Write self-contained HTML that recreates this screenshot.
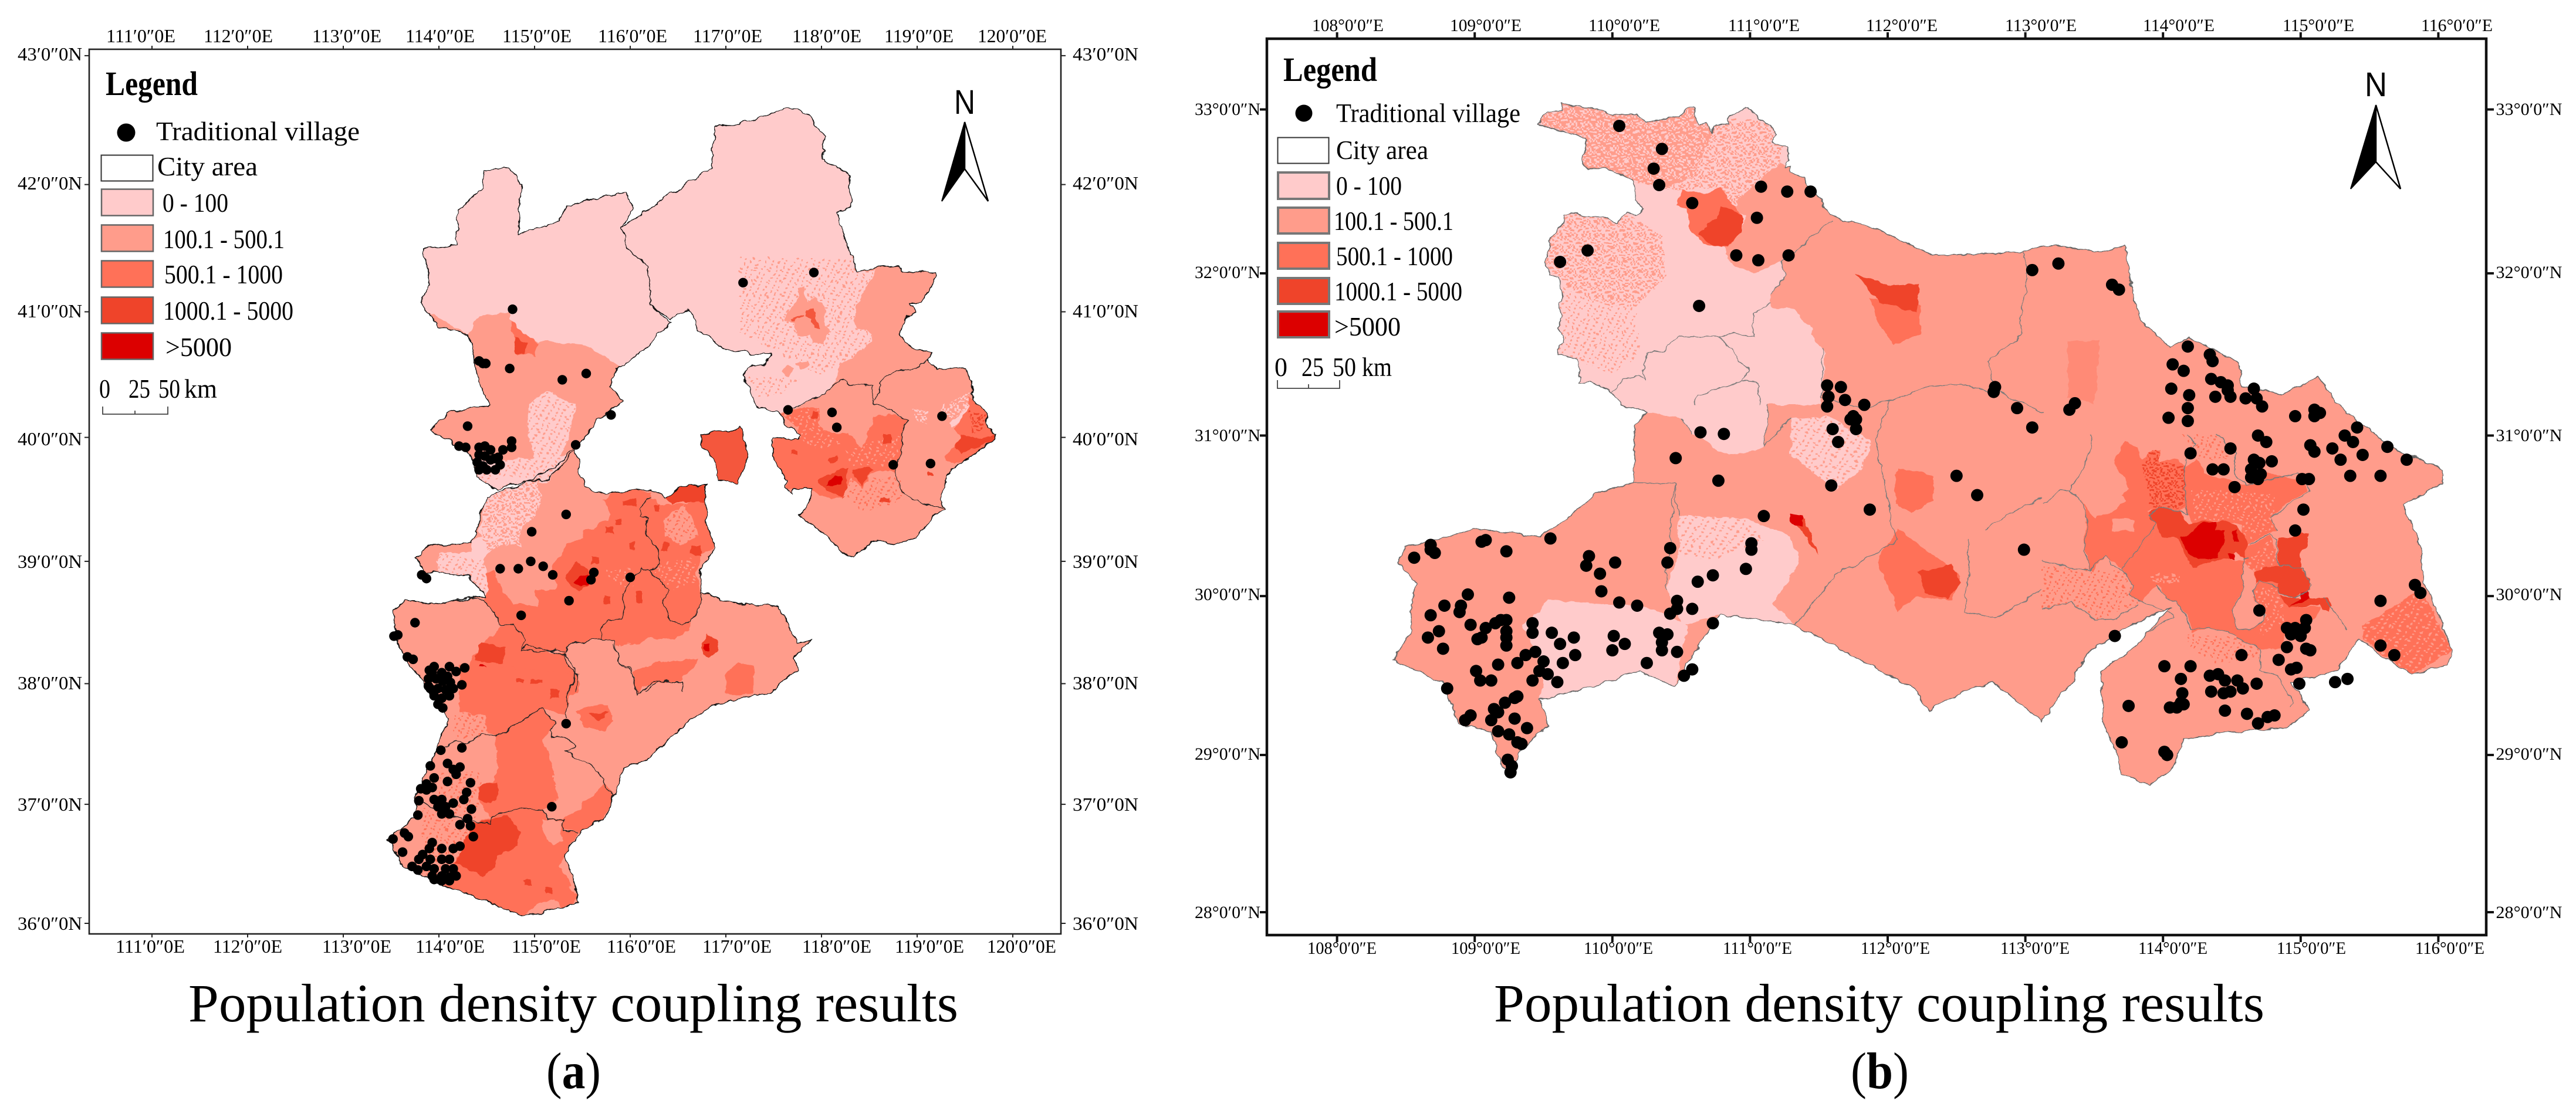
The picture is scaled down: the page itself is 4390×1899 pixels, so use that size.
<!DOCTYPE html>
<html lang="en">
<head>
<meta charset="utf-8">
<title>Population density coupling results</title>
<style>
html,body{margin:0;padding:0;background:#fff;}
svg{display:block;}
text{font-family:"Liberation Serif",serif;fill:#000;}
.ta{font-size:32px;text-anchor:middle;}
.tb{font-size:30px;text-anchor:middle;}
.lg{font-size:46px;}
.lh{font-size:58px;font-weight:bold;}
.ttl{font-size:92px;}
.cap{font-size:88px;}
.n{font-family:"Liberation Sans",sans-serif;font-size:58px;text-anchor:middle;}
.bd{fill:none;stroke:#222;stroke-width:1.4;vector-effect:non-scaling-stroke;stroke-linejoin:round;}
.bg{fill:none;stroke:#7a7a7a;stroke-width:1.4;vector-effect:non-scaling-stroke;stroke-linejoin:round;}
.ol{fill:none;stroke:#111;stroke-width:1.5;vector-effect:non-scaling-stroke;stroke-linejoin:round;}
.pk{fill:#ffcbcb;}.sa{fill:#ff9c8b;}.co{fill:#ff7158;}.ro{fill:#ef442a;}.rd{fill:#dc0000;}
</style>
</head>
<body>
<svg id="root" xmlns="http://www.w3.org/2000/svg" width="4390" height="1899" viewBox="0 0 4390 1899">
<defs>
<pattern id="sparseSalmon" width="72" height="63" patternUnits="userSpaceOnUse"><path fill="#ff9c8b" d="M0 0h9v9h-9zM27 9h9v9h-9zM54 18h9v9h-9zM18 27h9v9h-9zM45 36h9v9h-9zM9 45h9v9h-9zM36 54h9v9h-9zM63 54h9v9h-9z"/></pattern>
<pattern id="denseSalmon" width="72" height="63" patternUnits="userSpaceOnUse"><path fill="#ff9c8b" d="M0 0h9v9h-9zM27 9h9v9h-9zM54 18h9v9h-9zM18 27h9v9h-9zM45 36h9v9h-9zM9 45h9v9h-9zM36 54h9v9h-9zM63 54h9v9h-9zM9 0h9v9h-9zM36 0h9v9h-9zM63 9h9v9h-9zM0 18h9v9h-9zM36 18h9v9h-9zM54 36h9v9h-9zM27 45h9v9h-9zM0 54h9v9h-9zM18 54h9v9h-9zM45 9h9v9h-9zM9 27h9v9h-9zM63 36h9v9h-9z"/></pattern>
<pattern id="densePink" width="72" height="63" patternUnits="userSpaceOnUse"><path fill="#ffcbcb" d="M0 0h9v9h-9zM27 9h9v9h-9zM54 18h9v9h-9zM18 27h9v9h-9zM45 36h9v9h-9zM9 45h9v9h-9zM36 54h9v9h-9zM63 54h9v9h-9zM9 0h9v9h-9zM36 0h9v9h-9zM63 9h9v9h-9zM0 18h9v9h-9zM36 18h9v9h-9zM54 36h9v9h-9zM27 45h9v9h-9zM0 54h9v9h-9zM18 54h9v9h-9zM45 9h9v9h-9zM9 27h9v9h-9zM63 36h9v9h-9z"/></pattern>
<pattern id="sparseCoral" width="72" height="63" patternUnits="userSpaceOnUse"><path fill="#ff7158" d="M0 0h9v9h-9zM27 9h9v9h-9zM54 18h9v9h-9zM18 27h9v9h-9zM45 36h9v9h-9zM9 45h9v9h-9zM36 54h9v9h-9zM63 54h9v9h-9z"/></pattern>
<pattern id="denseRed" width="72" height="63" patternUnits="userSpaceOnUse"><path fill="#ef442a" d="M0 0h9v9h-9zM27 9h9v9h-9zM54 18h9v9h-9zM18 27h9v9h-9zM45 36h9v9h-9zM9 45h9v9h-9zM36 54h9v9h-9zM63 54h9v9h-9zM9 0h9v9h-9zM36 0h9v9h-9zM63 9h9v9h-9zM0 18h9v9h-9zM36 18h9v9h-9zM54 36h9v9h-9zM27 45h9v9h-9zM0 54h9v9h-9zM18 54h9v9h-9zM45 9h9v9h-9zM9 27h9v9h-9zM63 36h9v9h-9z"/></pattern>
<pattern id="zSalmon" href="#sparseSalmon" patternTransform="scale(.27 .275)"></pattern>
<filter id="roughA" filterUnits="userSpaceOnUse" primitiveUnits="userSpaceOnUse" x="400" y="100" width="1000" height="1250" color-interpolation-filters="sRGB">
<feTurbulence type="fractalNoise" baseFrequency="0.07" numOctaves="3" seed="4" result="n"/>
<feDisplacementMap in="SourceGraphic" in2="n" scale="9" xChannelSelector="R" yChannelSelector="G"/>
</filter>
<filter id="roughB" filterUnits="userSpaceOnUse" primitiveUnits="userSpaceOnUse" x="200" y="100" width="1300" height="1050" color-interpolation-filters="sRGB">
<feTurbulence type="fractalNoise" baseFrequency="0.07" numOctaves="3" seed="9" result="n"/>
<feDisplacementMap in="SourceGraphic" in2="n" scale="8" xChannelSelector="R" yChannelSelector="G"/>
</filter>
<clipPath id="clipA"><path d="M565 350L610 345L612 295L645 265L648 240L680 235L697 260L692 330L750 310L755 290L838 270L845 295L830 320L838 350L865 375L870 430L895 455L880 470L865 490L835 510L825 520L815 545L833 565L800 590L775 625L755 650L730 675L690 680L665 690L635 672L628 640L575 605L600 580L655 570L640 540L630 480L625 470L585 460L562 425L575 395Z
M830 320L950 235L955 180L1020 165L1052 150L1080 160L1100 190L1100 225L1135 245L1137 290L1120 300L1135 360L1140 363L1145 383L1171 376L1202 373L1207 383L1252 384L1253 389L1243 405L1232 425L1215 427L1223 440L1210 446L1202 471L1218 490L1245 495L1241 508L1252 520L1292 519L1299 537L1298 553L1304 568L1319 583L1319 600L1330 611L1328 619L1291 647L1268 663L1257 702L1261 718L1247 728L1223 757L1200 766L1171 760L1140 784L1126 779L1100 750L1077 732L1069 727L1079 713L1086 689L1062 688L1060 696L1047 685L1052 674L1038 658L1032 627L1035 616L1066 619L1068 612L1062 605L1049 597L1042 581L1014 575L993 528L1006 513L1022 515L1031 498L1006 499L988 493L965 490L935 465L920 435L895 450L870 430L865 375L838 350Z
M937 612L990 602L1000 640L985 680L960 675L955 645L937 630Z
M768 630L780 685L810 695L870 688L890 700L910 685L942 683L945 740L955 770L935 800L938 835L985 850L1040 855L1065 905L1085 900L1060 925L1065 945L1045 960L1030 975L960 990L925 1010L885 1050L865 1070L835 1080L822 1115L810 1150L775 1170L755 1205L770 1250L773 1270L750 1278L700 1290L665 1275L620 1255L590 1245L540 1222L525 1195L517 1180L555 1150L555 1120L570 1085L585 1050L600 1010L575 975L545 930L530 900L525 860L540 845L590 850L640 840L650 840L625 810L565 805L555 785L570 770L630 765L650 700L700 680L740 660Z"/></clipPath>
<clipPath id="clipB"><path d="M407 175L418 157L433 156L435 146L446 151L470 152L492 162L518 161L528 172L551 168L566 164L575 151L582 151L586 175L594 173L601 186L606 176L619 173L620 164L632 160L641 151L645 153L654 168L665 173L676 191L669 200L684 206L688 217L684 235L690 233L691 242L704 249L706 259L724 281L735 303L790 325L850 360L945 355L985 345L1035 355L1065 345L1068 385L1080 450L1115 490L1135 475L1160 490L1190 510L1195 545L1240 555L1280 530L1300 565L1320 590L1370 635L1420 660L1420 680L1375 710L1395 770L1395 810L1430 915L1425 935L1385 950L1360 930L1325 900L1300 945L1250 960L1270 1000L1245 1025L1180 1030L1130 1040L1115 1085L1090 1105L1060 1090L1055 1060L1040 1020L1037 945L1075 910L1115 855L1070 880L1020 920L1005 960L970 1015L940 985L915 960L880 975L845 1000L830 970L770 930L695 880L610 865L560 965L520 945L470 965L410 985L420 1020L385 1060L380 1090L365 1075L355 1030L320 1020L300 960L245 930L265 890L270 820L250 790L260 770L340 745L410 755L440 730L470 695L515 680L515 600L530 580L500 570L485 548L464 537L452 539L455 526L452 506L430 500L431 487L437 482L430 461L436 449L431 429L435 418L432 391L422 387L415 370L422 336L436 314L435 303L449 300L468 306L488 307L495 314L507 299L518 303L525 294L517 281L514 253L485 237L464 237L457 230L461 194L429 184Z"/></clipPath>
</defs>

<!-- PANEL A -->
<g>
<rect x="152" y="84" width="1656" height="1508" fill="#fff" stroke="#222" stroke-width="2.6"/>
<g transform="scale(1.2755 1.211)" filter="url(#roughA)">
<g clip-path="url(#clipA)">
<rect class="sa" x="400" y="100" width="1000" height="1250"/>
<path class="pk" d="M550 340L620 225L700 220L850 260L880 300L905 470L835 520L780 485L720 480L690 470L680 440L640 445L625 470L555 430Z
M825 320L950 145L1100 145L1145 250L1145 383L1060 383L1000 400L1000 570L930 480L900 455L870 430Z
M705 570L730 550L770 570L760 620L735 660L715 650L705 600Z
M636 650L760 640L730 678L690 682L665 692L636 672Z"/>
<path fill="url(#zSalmon)" d="M636 650L760 640L730 678L690 682L665 692L636 672Z M705 570L730 550L770 570L760 620L735 660L715 650L705 600Z"/>
<path class="co" d="M683 450L700 470L720 482L715 500L690 498Z"/>
<path class="ro" d="M688 475L705 482L702 498L688 496Z"/>
<path fill="#f4573d" d="M930 600L1005 600L1005 690L930 690Z"/>

<!-- Baoding / Langfang crop space -->
<g transform="scale(.784 .82576)"><g transform="translate(760 780) scale(.33333)">
<path class="pk" d="M235 100L370 100L470 105L490 235L440 320L380 360L385 460L300 440L220 490L190 520L215 660L210 700L100 715L-40 745L-40 490L130 480L135 430L185 400L160 370L185 320L190 270Z"/>
<path fill="url(#denseSalmon)" d="M190 170L470 105L490 235L440 320L385 460L220 490L185 400L190 270Z"/>
<path fill="url(#sparseSalmon)" d="M-40 490L190 520L215 700L-40 745Z"/>
<path class="co" d="M810 215L890 160L1050 175L1050 210L1100 245L1330 230L1360 320L1360 420L1380 450L1300 500L1280 600L1305 690L1310 750L1250 840L1240 880L1170 930L1040 920L990 950L870 965L855 940L800 925L630 950L610 1000L570 980L480 995L385 985L410 930L350 850L280 855L240 790L200 730L215 660L205 600L250 580L300 700L350 750L470 760L460 680L560 680L570 640L520 590L600 480L620 440L700 420L710 380L830 320L840 290Z"/>
<path fill="url(#sparseSalmon)" d="M820 580L960 560L960 660L860 650Z M1050 570L1170 520L1270 520L1280 640L1150 680Z M860 960L1150 930L1170 1000L1050 1060L950 1080L880 1040Z"/>
<path class="sa" d="M1120 310L1220 240L1270 330L1290 400L1200 445L1120 400Z"/>
<path fill="url(#sparseCoral)" d="M1120 310L1220 240L1270 330L1290 400L1200 445L1120 400Z"/>
<path class="sa" d="M665 1050L760 980L830 935L855 960L880 1040L950 1080L960 1150L985 1210L680 1210L680 1100Z"/>
<path class="co" d="M960 1090L1060 1050L1290 1030L1240 1110L1200 1140L1010 1160L985 1210L960 1160Z M1430 1100L1500 1040L1570 1060L1570 1210L1430 1210Z"/>
<path class="co" d="M280 860L350 850L410 930L385 985L610 1000L615 1060L680 1110L680 1210L150 1210L110 1060L160 990Z"/>
<path class="ro" d="M1130 200L1220 140L1320 150L1330 230L1270 235L1190 230L1150 240Z M610 600L660 530L735 580L750 620L720 660L680 690L640 650L610 620Z
M910 215L965 215L965 245L910 245Z M860 315L895 315L895 345L860 345Z M820 355L850 355L850 390L820 390Z M935 440L965 440L965 470L935 470Z M740 510L785 510L785 540L740 540Z M965 690L1005 690L1005 740L965 740Z M800 710L840 710L840 745L800 745Z M1105 430L1135 430L1135 480L1105 480Z M1250 450L1310 450L1310 500L1250 500Z M1310 960L1340 905L1390 935L1395 985L1340 1015L1310 1000Z M150 1020L180 940L300 970L290 1060L150 1040Z M1065 240L1090 240L1090 275L1065 275Z"/>
<path class="rd" d="M660 640L690 595L730 600L725 650L690 665Z M1320 960L1350 955L1350 985L1320 985Z M140 1100L170 1055L295 1100L280 1150L200 1170L140 1130Z"/>
</g></g>

<!-- Shijiazhuang south / Xingtai / Handan crop space -->
<g transform="scale(.784 .82576)"><g transform="translate(640 1100) scale(.33333)">
<path fill="url(#sparseCoral)" d="M240 830L430 900L500 910L410 1100L340 1250L240 1190Z M340 640L540 650L540 800L500 890L300 850Z M400 340L560 360L610 470L400 480Z"/>
<path class="co" d="M430 100L1030 140L980 300L975 360L850 320L700 420L610 470L570 440L560 360L430 340Z"/>
<path class="co" d="M610 470L700 420L850 320L930 400L890 440L850 490L900 580L920 700L930 780L900 830L850 840L740 830L680 850L590 880L530 800L540 720L600 700L630 620L610 520Z
M1060 800L1180 710L1220 770L1180 860L1130 930L1040 960L960 940L950 890L1000 860L1060 830Z"/>
<path fill="url(#sparseSalmon)" d="M900 640L1060 660L1150 700L1060 800L1060 830L960 880L900 830L930 760Z"/>
<path class="co" d="M590 880L740 830L850 840L880 890L960 890L965 950L1030 960L940 1130L1000 1230L1040 1290L965 1365L920 1300L830 1320L760 1385L600 1345L450 1270L340 1250L410 1100L470 1000L500 910Z"/>
<path class="sa" d="M850 890L960 900L950 1000L910 1020L860 970Z"/>
<path class="co" d="M1080 310L1190 310L1215 380L1170 440L1070 420L1020 340Z M1330 150L1500 80L1500 180L1370 210L1320 180Z"/>
<path class="ro" d="M500 910L680 870L740 960L730 1020L620 1080L610 1130L550 1190L470 1140L410 1110L460 1000Z M1095 350L1190 335L1140 390Z M530 720L620 700L625 790L570 810L530 790Z M890 225L940 225L940 270L890 270Z M720 175L760 175L760 195L720 195Z M800 175L850 175L850 195L800 195Z M870 1240L900 1240L900 1270L870 1270Z M760 1200L800 1200L800 1230L760 1230Z"/>
</g></g>

<!-- Chengde / Tangshan / Qinhuangdao crop space -->
<g transform="scale(.784 .82576)"><g transform="translate(1260 440) scale(.33333)">
<path class="pk" d="M0 0L580 0L600 70L700 60L650 150L600 240L590 360L680 380L680 430L600 490L520 540L500 620L440 690L280 770L200 795L100 790L0 620L0 470Z"/>
<path fill="url(#sparseSalmon)" d="M0 0L580 0L600 70L700 60L650 150L600 240L590 360L680 380L680 430L600 490L520 540L420 600L240 500L0 380Z"/>
<path fill="url(#sparseSalmon)" d="M40 600L300 620L200 700L100 710Z"/>
<path class="sa" d="M230 320L250 270L300 220L300 150L330 150L340 220L380 190L430 240L440 340L470 370L420 440L370 430L360 390L300 400L280 330Z M210 575L250 550L290 570L250 605Z M290 540L350 525L360 545L320 570Z"/>
<path fill="#f4573d" d="M350 270L385 260L390 310L405 360L380 355L370 310L345 295Z M265 312L335 290L335 298L265 322Z"/>
<path class="co" d="M210 800L270 770L400 760L420 880L560 900L620 970L660 900L680 810L790 800L860 830L830 890L840 960L790 1100L720 1080L660 1120L630 1180L570 1120L530 1220L450 1230L380 1190L230 1180L250 1130L190 1070L170 960L190 920L300 930L300 870Z"/>
<path fill="url(#sparseSalmon)" d="M210 800L400 760L420 880L520 950L400 980L300 930L300 870Z M550 980L820 900L800 1060L560 1060Z"/>
<path fill="url(#sparseCoral)" d="M560 1130L820 1120L850 1230L640 1300L560 1240Z"/>
<path class="ro" d="M410 1130L500 1090L550 1070L550 1180L520 1230L540 1220L490 1210L450 1190L410 1150Z M580 1090L640 1065L690 1090L640 1130L630 1170L590 1120Z M450 1030L505 1010L505 1040L460 1050Z M720 1225L765 1225L765 1245L720 1245Z M965 1100L990 1100L990 1115L965 1115Z M265 985L300 985L300 1005L265 1005Z M370 780L400 780L400 820L370 820Z M735 905L780 905L780 945L735 945Z"/>
<path class="rd" d="M450 1160L490 1110L520 1120L525 1150L480 1165Z"/>
<path class="pk" d="M1070 850L1175 750L1165 800L1090 865Z"/>
<path fill="url(#densePink)" d="M890 770L960 770L960 850L900 830Z M1030 760L1180 680L1180 760L1070 830Z"/>
<path class="co" d="M1180 710L1270 790L1270 860L1320 900L1300 930L1160 1030L1100 1050L1060 1040L1060 1000L1100 960L1130 920L1100 870L1175 760Z"/>
<path fill="url(#denseRed)" d="M1170 780L1260 800L1260 860L1190 900Z"/>
<path class="ro" d="M1100 965L1130 920L1130 900L1240 930L1300 900L1320 925L1240 960L1160 985L1130 1000Z"/>
</g></g>
</g>
<path class="ol" d="M565 350L610 345L612 295L645 265L648 240L680 235L697 260L692 330L750 310L755 290L838 270L845 295L830 320L838 350L865 375L870 430L895 455L880 470L865 490L835 510L825 520L815 545L833 565L800 590L775 625L755 650L730 675L690 680L665 690L635 672L628 640L575 605L600 580L655 570L640 540L630 480L625 470L585 460L562 425L575 395Z
M830 320L950 235L955 180L1020 165L1052 150L1080 160L1100 190L1100 225L1135 245L1137 290L1120 300L1135 360L1140 363L1145 383L1171 376L1202 373L1207 383L1252 384L1253 389L1243 405L1232 425L1215 427L1223 440L1210 446L1202 471L1218 490L1245 495L1241 508L1252 520L1292 519L1299 537L1298 553L1304 568L1319 583L1319 600L1330 611L1328 619L1291 647L1268 663L1257 702L1261 718L1247 728L1223 757L1200 766L1171 760L1140 784L1126 779L1100 750L1077 732L1069 727L1079 713L1086 689L1062 688L1060 696L1047 685L1052 674L1038 658L1032 627L1035 616L1066 619L1068 612L1062 605L1049 597L1042 581L1014 575L993 528L1006 513L1022 515L1031 498L1006 499L988 493L965 490L935 465L920 435L895 450L870 430L865 375L838 350Z
M937 612L990 602L1000 640L985 680L960 675L955 645L937 630Z
M768 630L780 685L810 695L870 688L890 700L910 685L942 683L945 740L955 770L935 800L938 835L985 850L1040 855L1065 905L1085 900L1060 925L1065 945L1045 960L1030 975L960 990L925 1010L885 1050L865 1070L835 1080L822 1115L810 1150L775 1170L755 1205L770 1250L773 1270L750 1278L700 1290L665 1275L620 1255L590 1245L540 1222L525 1195L517 1180L555 1150L555 1120L570 1085L585 1050L600 1010L575 975L545 930L530 900L525 860L540 845L590 850L640 840L650 840L625 810L565 805L555 785L570 770L630 765L650 700L700 680L740 660Z"/>
<g transform="scale(.784 .82576)">
<g transform="translate(760 780) scale(.33333)"><path class="bd" d="M1050 205L990 260L990 300L1030 310L1020 400L1090 480L1090 540L1040 580L1000 565L940 640L905 700L915 790L900 825L830 830L795 880L800 925L630 950L610 1000L570 980L480 995L385 985L410 930L350 850L280 855L240 790L200 730L105 715L0 745
M1040 580L1140 680L1110 730L1150 840L1200 855L1250 840L1310 750L1305 690M800 925L855 940L880 1040L950 1080L960 1150L985 1200M605 1005L620 1070L680 1110L660 1200M1010 1200L1090 1145L1205 1145L1205 1200"/></g>
<g transform="translate(640 1100) scale(.33333)"><path class="bd" d="M745 20L780 0L970 50L1030 140L980 250L975 340L980 370M890 440L930 400L850 320L700 420L650 450L610 470L545 455L470 500L400 490L360 515L330 540
M890 440L900 465L970 470L1020 520L970 540L1020 570L1090 610L1170 680L1180 730L1220 770M200 810L240 800L290 830L440 895L585 910L590 880L670 850L740 830L850 840L885 890L960 895L965 950L1030 960M1210 0L1250 90L1310 130L1320 180L1340 250L1420 190L1500 180"/></g>
<g transform="translate(1260 440) scale(.33333)"><path class="bd" d="M270 770L440 690L490 640L530 620L560 645L660 650L690 650L670 720L690 740L790 790L860 830L830 890L840 960L790 1100L830 1190L900 1240L1040 1280M690 730L720 680L710 640L750 605L800 580L880 570L970 525"/></g>
</g>
</g>
<g>
<text class="lh" x="180" y="162" textLength="157" lengthAdjust="spacingAndGlyphs">Legend</text>
<circle cx="215" cy="226" r="15.5" fill="#000"/>
<text class="lg" x="266" y="239" textLength="347" lengthAdjust="spacingAndGlyphs">Traditional village</text>
<rect x="172.5" y="264.5" width="88" height="44" fill="#fff" stroke="#333" stroke-width="2"/>
<text class="lg" x="268" y="299" textLength="171" lengthAdjust="spacingAndGlyphs">City area</text>
<rect x="173" y="322.5" width="88" height="45" fill="#ffcbcb" stroke="#666" stroke-width="2.5"/>
<text class="lg" x="277" y="361" textLength="112" lengthAdjust="spacingAndGlyphs">0 - 100</text>
<rect x="173" y="383.5" width="88" height="45" fill="#ff9c8b" stroke="#666" stroke-width="2.5"/>
<text class="lg" x="278" y="423" textLength="207" lengthAdjust="spacingAndGlyphs">100.1 - 500.1</text>
<rect x="173" y="444.5" width="88" height="45" fill="#ff7158" stroke="#666" stroke-width="2.5"/>
<text class="lg" x="280" y="483" textLength="202" lengthAdjust="spacingAndGlyphs">500.1 - 1000</text>
<rect x="173" y="506.5" width="88" height="45" fill="#ef442a" stroke="#666" stroke-width="2.5"/>
<text class="lg" x="278" y="545" textLength="222" lengthAdjust="spacingAndGlyphs">1000.1 - 5000</text>
<rect x="173" y="567.5" width="88" height="45" fill="#dc0000" stroke="#666" stroke-width="2.5"/>
<text class="lg" x="282" y="607" textLength="113" lengthAdjust="spacingAndGlyphs">&gt;5000</text>
<g>
<text class="lg" x="169" y="678" textLength="19" lengthAdjust="spacingAndGlyphs">0</text>
<text class="lg" x="219" y="678" textLength="37" lengthAdjust="spacingAndGlyphs">25</text>
<text class="lg" x="270" y="678" textLength="37" lengthAdjust="spacingAndGlyphs">50</text>
<text class="lg" x="314" y="678" textLength="56" lengthAdjust="spacingAndGlyphs">km</text>
<path d="M175 693V706H286V693M230 700V706" fill="none" stroke="#444" stroke-width="1.8"/>
</g>
</g>
<g>
<text class="n" x="1644" y="194" textLength="36" lengthAdjust="spacingAndGlyphs">N</text>
<path d="M1644 208L1605 343L1644 288Z" fill="#000" stroke="#000" stroke-width="2"/>
<path d="M1644 208L1684 343L1644 288Z" fill="#fff" stroke="#000" stroke-width="2.5"/>
</g>
<g>
<text class="ta" x="240" y="72" textLength="118" lengthAdjust="spacingAndGlyphs">111′0″0E</text>
<text class="ta" x="406" y="72" textLength="118" lengthAdjust="spacingAndGlyphs">112′0″0E</text>
<text class="ta" x="591" y="72" textLength="118" lengthAdjust="spacingAndGlyphs">113′0″0E</text>
<text class="ta" x="750" y="72" textLength="118" lengthAdjust="spacingAndGlyphs">114′0″0E</text>
<text class="ta" x="915" y="72" textLength="118" lengthAdjust="spacingAndGlyphs">115′0″0E</text>
<text class="ta" x="1078" y="72" textLength="118" lengthAdjust="spacingAndGlyphs">116′0″0E</text>
<text class="ta" x="1240" y="72" textLength="118" lengthAdjust="spacingAndGlyphs">117′0″0E</text>
<text class="ta" x="1409" y="72" textLength="118" lengthAdjust="spacingAndGlyphs">118′0″0E</text>
<text class="ta" x="1566" y="72" textLength="118" lengthAdjust="spacingAndGlyphs">119′0″0E</text>
<text class="ta" x="1725" y="72" textLength="118" lengthAdjust="spacingAndGlyphs">120′0″0E</text>
</g>
<g>
<text class="ta" x="256" y="1624" textLength="118" lengthAdjust="spacingAndGlyphs">111′0″0E</text>
<text class="ta" x="422" y="1624" textLength="118" lengthAdjust="spacingAndGlyphs">112′0″0E</text>
<text class="ta" x="608" y="1624" textLength="118" lengthAdjust="spacingAndGlyphs">113′0″0E</text>
<text class="ta" x="767" y="1624" textLength="118" lengthAdjust="spacingAndGlyphs">114′0″0E</text>
<text class="ta" x="931" y="1624" textLength="118" lengthAdjust="spacingAndGlyphs">115′0″0E</text>
<text class="ta" x="1093" y="1624" textLength="118" lengthAdjust="spacingAndGlyphs">116′0″0E</text>
<text class="ta" x="1256" y="1624" textLength="118" lengthAdjust="spacingAndGlyphs">117′0″0E</text>
<text class="ta" x="1426" y="1624" textLength="118" lengthAdjust="spacingAndGlyphs">118′0″0E</text>
<text class="ta" x="1584" y="1624" textLength="118" lengthAdjust="spacingAndGlyphs">119′0″0E</text>
<text class="ta" x="1741" y="1624" textLength="118" lengthAdjust="spacingAndGlyphs">120′0″0E</text>
</g>
<g>
<text class="ta" x="85" y="103" textLength="110" lengthAdjust="spacingAndGlyphs">43′0″0N</text>
<text class="ta" x="85" y="323" textLength="110" lengthAdjust="spacingAndGlyphs">42′0″0N</text>
<text class="ta" x="85" y="541" textLength="110" lengthAdjust="spacingAndGlyphs">41′0″0N</text>
<text class="ta" x="85" y="759" textLength="110" lengthAdjust="spacingAndGlyphs">40′0″0N</text>
<text class="ta" x="85" y="968" textLength="110" lengthAdjust="spacingAndGlyphs">39′0″0N</text>
<text class="ta" x="85" y="1175" textLength="110" lengthAdjust="spacingAndGlyphs">38′0″0N</text>
<text class="ta" x="85" y="1382" textLength="110" lengthAdjust="spacingAndGlyphs">37′0″0N</text>
<text class="ta" x="85" y="1585" textLength="110" lengthAdjust="spacingAndGlyphs">36′0″0N</text>
</g>
<g>
<text class="ta" x="1884" y="103" textLength="112" lengthAdjust="spacingAndGlyphs">43′0″0N</text>
<text class="ta" x="1884" y="323" textLength="112" lengthAdjust="spacingAndGlyphs">42′0″0N</text>
<text class="ta" x="1884" y="541" textLength="112" lengthAdjust="spacingAndGlyphs">41′0″0N</text>
<text class="ta" x="1884" y="759" textLength="112" lengthAdjust="spacingAndGlyphs">40′0″0N</text>
<text class="ta" x="1884" y="968" textLength="112" lengthAdjust="spacingAndGlyphs">39′0″0N</text>
<text class="ta" x="1884" y="1175" textLength="112" lengthAdjust="spacingAndGlyphs">38′0″0N</text>
<text class="ta" x="1884" y="1382" textLength="112" lengthAdjust="spacingAndGlyphs">37′0″0N</text>
<text class="ta" x="1884" y="1585" textLength="112" lengthAdjust="spacingAndGlyphs">36′0″0N</text>
</g>
<g id="ticksA"></g>
<g id="villagesA"></g>
<text class="ttl" x="321" y="1741" textLength="1312" lengthAdjust="spacingAndGlyphs">Population density coupling results</text>
<text class="cap" x="931" y="1855" textLength="93" lengthAdjust="spacingAndGlyphs">(<tspan font-weight="bold">a</tspan>)</text>
</g>

<!-- PANEL B -->
<g>
<rect x="2159" y="66" width="2078" height="1528" fill="#fff" stroke="#111" stroke-width="4.5"/>
<g transform="translate(2000 0) scale(1.5242 1.211)" filter="url(#roughB)">
<g clip-path="url(#clipB)">
<rect class="sa" x="200" y="100" width="1300" height="1050"/>
<path class="pk" d="M470 555L725 555L725 560L700 565L665 570L660 630L620 640L580 610L570 590L530 580L480 570Z
M565 725L640 730L690 755L700 790L670 850L695 880L610 865L570 880L550 830L565 780Z
M420 845L530 855L575 880L560 965L520 945L470 965L410 985L415 940L390 880Z"/>
<path class="pk" d="M690 590L730 585L780 620L770 660L740 690L690 640Z"/>
<path fill="url(#zSalmon)" d="M690 590L730 585L780 620L770 660L740 690L690 640Z M565 725L640 730L660 760L600 790L565 780Z"/>
<path class="co" d="M780 420L835 430L835 470L805 485L785 450Z M810 660L850 670L850 705L825 720L805 710Z"/>
<path fill="#ff8a76" d="M1000 480L1035 480L1030 570L1000 560Z"/>
<path class="ro" d="M762 385L800 402L835 400L830 440L790 425Z"/>
<path class="co" d="M790 780L810 745L880 810L870 845L830 840L810 860L790 800Z"/>
<path class="ro" d="M832 805L870 795L880 820L865 843L840 835Z M690 725L705 730L722 782L700 745Z"/>
<path class="rd" d="M688 722L702 725L704 740L692 738Z"/>
<path class="co" d="M1330 880L1395 830L1430 915L1385 950L1330 900Z"/>
<path fill="url(#zSalmon)" d="M1330 880L1395 830L1430 915L1385 950L1330 900Z"/>

<!-- Shiyan / NW crop space -->
<g transform="scale(.65608 .82576) translate(-2000 0)"><g transform="translate(2600 170) scale(.33333)">
<path class="pk" d="M0 -40L950 -40L1340 -40L1420 400L1560 590L1560 1560L0 1560Z"/>
<path class="sa" d="M0 0L950 0L950 170L900 300L850 400L700 450L550 420L300 370L0 330Z"/>
<path fill="url(#densePink)" d="M0 0L950 0L950 170L900 300L850 400L700 450L550 420L300 370L0 330Z"/>
<path fill="url(#denseSalmon)" d="M950 100L1330 100L1300 320L1120 480L1060 560L1000 450L800 460L700 460L700 420L850 400L900 300Z"/>
<path fill="url(#denseSalmon)" d="M100 580L520 580L700 700L720 900L560 1060L400 1050L200 950L100 850Z"/>
<path fill="url(#sparseSalmon)" d="M170 950L400 1050L560 1060L580 1300L450 1400L170 1300Z"/>
<path class="sa" d="M1120 480L1300 320L1350 340L1420 395L1600 590L1600 1600L1510 1600L1530 1300L1460 1200L1470 1170L1380 1080L1340 1060L1250 1060L1250 990L1335 900L1300 830L1190 880L1160 880L1040 840L1020 750L1100 680L1120 590L1060 560Z"/>
<path class="co" d="M770 540L800 460L930 480L1000 450L1060 540L1110 590L1100 680L1040 750L960 755L880 720L830 620L830 570Z"/>
<path class="ro" d="M880 690L930 630L980 610L990 540L1060 565L1110 590L1100 680L1040 745L960 755L920 715Z"/>
<path class="bg" d="M420 1510L500 1430L580 1410L610 1440L600 1390L620 1300L710 1280L720 1250L790 1210L990 1215L1140 1375L1115 1440L1190 1450L1195 1560M990 1215L1070 1190L1170 1220L1160 1090L1250 1045M1115 1440L960 1490L880 1510L870 1560M1560 620L1420 740L1300 830L1335 900L1250 990"/>
</g></g>

<!-- Wuhan crop space -->
<g transform="scale(.65608 .82576) translate(-2000 0)"><g transform="translate(3480 740) scale(.33333)">
<path fill="url(#sparseCoral)" d="M0 680L430 700L490 870L280 950L150 860L0 890Z M720 1020L990 1040L1110 1100L1110 1150L880 1170L750 1090Z M720 0L900 0L960 130L900 130L800 130Z"/>
<path class="co" d="M370 130L420 30L490 70L510 130L560 90L610 80L600 140L700 130L735 170L735 380L540 390L580 460L560 540L410 690L350 640L330 620L260 700L235 690L220 550L220 370L200 330L270 430L350 400L430 340L410 310L440 280L420 220L380 170Z"/>
<path class="sa" d="M360 430L480 440L470 500L360 500Z"/>
<path fill="url(#denseRed)" d="M510 160L550 90L610 80L600 140L730 160L730 370L550 380L540 270Z"/>
<path class="co" d="M725 170L790 130L830 200L960 240L1040 260L1150 200L1310 230L1360 290L1300 330L1230 370L1170 425L1210 490L1050 560L1030 520L1020 470L940 450L880 440L790 470L735 400Z"/>
<path fill="url(#sparseSalmon)" d="M760 280L1180 300L1200 480L1050 540L1000 440L780 440Z"/>
<path class="co" d="M580 460L620 520L700 540L740 640L770 690L860 650L950 640L1030 650L1030 780L990 850L970 900L1000 990L990 1030L860 990L770 1015L750 960L690 850L640 845L590 770L520 830L520 860L490 850L445 820L470 780L410 690L560 540Z"/>
<path fill="url(#denseSalmon)" d="M560 720L700 720L700 760L560 760Z"/>
<path class="ro" d="M545 400L600 375L700 385L750 460L880 445L960 450L1030 510L1050 560L1060 630L1030 640L1000 610L950 640L860 650L770 690L740 640L700 540L620 520L580 460L540 430Z"/>
<path class="rd" d="M710 530L820 460L890 445L880 490L940 490L920 570L900 630L860 640L800 640L750 610Z M950 620L985 620L985 640L950 640Z M975 490L1000 490L1000 550L975 550Z"/>
<path class="co" d="M1030 650L1050 570L1170 520L1200 640L1220 670L1340 690L1370 740L1370 800L1330 810L1290 840L1220 810L1210 780L1170 770L1110 750L1090 770L1080 700Z"/>
<path class="co" d="M1080 800L1110 750L1210 780L1220 820L1260 885L1420 880L1400 930L1340 1000L1240 1030L1220 1100L1110 1100L990 1040L990 990L1050 1000L1120 960L1140 920L1080 850Z"/>
<path fill="url(#sparseSalmon)" d="M1030 650L1170 540L1200 640L1090 760Z M1080 800L1210 780L1240 950L1120 1040L1080 850Z"/>
<path class="ro" d="M1205 530L1260 530L1330 500L1365 510L1350 570L1320 600L1320 690L1220 670L1205 640Z
M1085 700L1200 670L1330 690L1370 740L1365 800L1330 810L1290 840L1220 810L1200 760L1110 750L1090 760Z
M1220 820L1280 840L1370 840L1460 835L1490 880L1470 910L1430 900L1420 870L1350 880L1260 885L1230 860Z"/>
<path class="rd" d="M1330 810L1350 805L1370 840L1320 860L1260 880L1320 840Z"/>
<path class="bg" d="M250 0L250 100L190 210L145 255L145 290L210 350L230 490L220 610L240 700L330 620L350 640L350 670L410 695L470 780L445 820L490 850L520 860L670 920L680 930L530 1020L490 1070L380 1075L310 1140
M0 360L100 285L145 290M0 640L50 665L240 700M0 895L150 860L270 950L380 945L490 870M410 690L580 460L540 420L600 375L700 385L740 410L725 170L780 50L740 0
M1060 560L1170 515L1200 540L1200 640L1220 670L1340 690L1375 770L1360 800L1290 840L1220 810L1210 780L1170 770L1110 750L1080 800L1090 860L1140 900L1120 960L1060 1000L1000 990L970 900L1030 780L1030 640L1060 630
M1170 430L1210 490M1170 425L1370 290L1300 200L1040 260L985 200L985 100L900 0M990 1040L1115 1100L1115 1210L1200 1230L1280 1370L1260 1400M1440 835L1510 920L1560 1000M580 770L640 845L690 850L760 1000L860 990L990 1030"/>
</g></g>
</g>
<path class="ol" style="stroke:#666" d="M407 175L418 157L433 156L435 146L446 151L470 152L492 162L518 161L528 172L551 168L566 164L575 151L582 151L586 175L594 173L601 186L606 176L619 173L620 164L632 160L641 151L645 153L654 168L665 173L676 191L669 200L684 206L688 217L684 235L690 233L691 242L704 249L706 259L724 281L735 303L790 325L850 360L945 355L985 345L1035 355L1065 345L1068 385L1080 450L1115 490L1135 475L1160 490L1190 510L1195 545L1240 555L1280 530L1300 565L1320 590L1370 635L1420 660L1420 680L1375 710L1395 770L1395 810L1430 915L1425 935L1385 950L1360 930L1325 900L1300 945L1250 960L1270 1000L1245 1025L1180 1030L1130 1040L1115 1085L1090 1105L1060 1090L1055 1060L1040 1020L1037 945L1075 910L1115 855L1070 880L1020 920L1005 960L970 1015L940 985L915 960L880 975L845 1000L830 970L770 930L695 880L610 865L560 965L520 945L470 965L410 985L420 1020L385 1060L380 1090L365 1075L355 1030L320 1020L300 960L245 930L265 890L270 820L250 790L260 770L340 745L410 755L440 730L470 695L515 680L515 600L530 580L500 570L485 548L464 537L452 539L455 526L452 506L430 500L431 487L437 482L430 461L436 449L431 429L435 418L432 391L422 387L415 370L422 336L436 314L435 303L449 300L468 306L488 307L495 314L507 299L518 303L525 294L517 281L514 253L485 237L464 237L457 230L461 194L429 184Z"/>
<path class="bg" d="M725 490L725 560L770 575L800 565L840 545L880 540L920 555L910 510L945 475L955 390L950 355
M920 550L971 580M800 565L785 620L805 745L810 760L740 810L695 880M890 760L885 860L920 870L971 830M905 745L971 700
M515 680L560 680L550 830M560 680L565 725M665 570L660 630L690 590M580 610L570 590"/>
</g>
<g>
<text class="lh" x="2187" y="138" textLength="160" lengthAdjust="spacingAndGlyphs">Legend</text>
<circle cx="2222" cy="193" r="14.5" fill="#000"/>
<text class="lg" x="2277" y="208" textLength="314" lengthAdjust="spacingAndGlyphs">Traditional village</text>
<rect x="2177.5" y="234.5" width="87" height="44" fill="#fff" stroke="#333" stroke-width="2"/>
<text class="lg" x="2277" y="271" textLength="157" lengthAdjust="spacingAndGlyphs">City area</text>
<rect x="2178" y="294" width="87" height="45" fill="#ffcbcb" stroke="#777" stroke-width="4"/>
<text class="lg" x="2277" y="332" textLength="112" lengthAdjust="spacingAndGlyphs">0 - 100</text>
<rect x="2178" y="354" width="87" height="44" fill="#ff9c8b" stroke="#777" stroke-width="4"/>
<text class="lg" x="2273" y="392" textLength="204" lengthAdjust="spacingAndGlyphs">100.1 - 500.1</text>
<rect x="2178" y="414" width="87" height="44" fill="#ff7158" stroke="#777" stroke-width="4"/>
<text class="lg" x="2277" y="452" textLength="199" lengthAdjust="spacingAndGlyphs">500.1 - 1000</text>
<rect x="2178" y="474" width="87" height="44" fill="#ef442a" stroke="#777" stroke-width="4"/>
<text class="lg" x="2274" y="512" textLength="218" lengthAdjust="spacingAndGlyphs">1000.1 - 5000</text>
<rect x="2178" y="531" width="87" height="44" fill="#dc0000" stroke="#777" stroke-width="4"/>
<text class="lg" x="2274" y="572" textLength="113" lengthAdjust="spacingAndGlyphs">&gt;5000</text>
<g>
<text class="lg" x="2172" y="641" textLength="22" lengthAdjust="spacingAndGlyphs">0</text>
<text class="lg" x="2218" y="641" textLength="38" lengthAdjust="spacingAndGlyphs">25</text>
<text class="lg" x="2271" y="641" textLength="101" lengthAdjust="spacingAndGlyphs">50 km</text>
<path d="M2177 648V662H2283V648M2230 655V662" fill="none" stroke="#444" stroke-width="1.8"/>
</g>
</g>
<g>
<text class="n" x="4049" y="164" textLength="38" lengthAdjust="spacingAndGlyphs">N</text>
<path d="M4049 179L4006 322L4049 276Z" fill="#000" stroke="#000" stroke-width="2"/>
<path d="M4049 179L4091 322L4049 276Z" fill="#fff" stroke="#000" stroke-width="2.5"/>
</g>
<g>
<text class="tb" x="2297" y="53" textLength="122" lengthAdjust="spacingAndGlyphs">108°0′0″E</text>
<text class="tb" x="2532" y="53" textLength="122" lengthAdjust="spacingAndGlyphs">109°0′0″E</text>
<text class="tb" x="2768" y="53" textLength="122" lengthAdjust="spacingAndGlyphs">110°0′0″E</text>
<text class="tb" x="3006" y="53" textLength="122" lengthAdjust="spacingAndGlyphs">111°0′0″E</text>
<text class="tb" x="3241" y="53" textLength="122" lengthAdjust="spacingAndGlyphs">112°0′0″E</text>
<text class="tb" x="3478" y="53" textLength="122" lengthAdjust="spacingAndGlyphs">113°0′0″E</text>
<text class="tb" x="3713" y="53" textLength="122" lengthAdjust="spacingAndGlyphs">114°0′0″E</text>
<text class="tb" x="3951" y="53" textLength="122" lengthAdjust="spacingAndGlyphs">115°0′0″E</text>
<text class="tb" x="4187" y="53" textLength="122" lengthAdjust="spacingAndGlyphs">116°0′0″E</text>
</g>
<g>
<text class="tb" x="2287" y="1626" textLength="118" lengthAdjust="spacingAndGlyphs">108°0′0″E</text>
<text class="tb" x="2532" y="1626" textLength="118" lengthAdjust="spacingAndGlyphs">109°0′0″E</text>
<text class="tb" x="2758" y="1626" textLength="118" lengthAdjust="spacingAndGlyphs">110°0′0″E</text>
<text class="tb" x="2995" y="1626" textLength="118" lengthAdjust="spacingAndGlyphs">111°0′0″E</text>
<text class="tb" x="3230" y="1626" textLength="118" lengthAdjust="spacingAndGlyphs">112°0′0″E</text>
<text class="tb" x="3468" y="1626" textLength="118" lengthAdjust="spacingAndGlyphs">113°0′0″E</text>
<text class="tb" x="3703" y="1626" textLength="118" lengthAdjust="spacingAndGlyphs">114°0′0″E</text>
<text class="tb" x="3939" y="1626" textLength="118" lengthAdjust="spacingAndGlyphs">115°0′0″E</text>
<text class="tb" x="4175" y="1626" textLength="118" lengthAdjust="spacingAndGlyphs">116°0′0″E</text>
</g>
<g>
<text class="tb" x="2092" y="196" textLength="112" lengthAdjust="spacingAndGlyphs">33°0′0″N</text>
<text class="tb" x="2092" y="474" textLength="112" lengthAdjust="spacingAndGlyphs">32°0′0″N</text>
<text class="tb" x="2092" y="752" textLength="112" lengthAdjust="spacingAndGlyphs">31°0′0″N</text>
<text class="tb" x="2092" y="1023" textLength="112" lengthAdjust="spacingAndGlyphs">30°0′0″N</text>
<text class="tb" x="2092" y="1295" textLength="112" lengthAdjust="spacingAndGlyphs">29°0′0″N</text>
<text class="tb" x="2092" y="1565" textLength="112" lengthAdjust="spacingAndGlyphs">28°0′0″N</text>
</g>
<g>
<text class="tb" x="4310" y="196" textLength="113" lengthAdjust="spacingAndGlyphs">33°0′0″N</text>
<text class="tb" x="4310" y="474" textLength="113" lengthAdjust="spacingAndGlyphs">32°0′0″N</text>
<text class="tb" x="4310" y="752" textLength="113" lengthAdjust="spacingAndGlyphs">31°0′0″N</text>
<text class="tb" x="4310" y="1023" textLength="113" lengthAdjust="spacingAndGlyphs">30°0′0″N</text>
<text class="tb" x="4310" y="1295" textLength="113" lengthAdjust="spacingAndGlyphs">29°0′0″N</text>
<text class="tb" x="4310" y="1565" textLength="113" lengthAdjust="spacingAndGlyphs">28°0′0″N</text>
</g>
<g id="ticksB"></g>
<g id="villagesB"></g>
<text class="ttl" x="2546" y="1741" textLength="1313" lengthAdjust="spacingAndGlyphs">Population density coupling results</text>
<text class="cap" x="3154" y="1855" textLength="99" lengthAdjust="spacingAndGlyphs">(<tspan font-weight="bold">b</tspan>)</text>
</g>
</svg>

<script>
const tickLonA = [111,112,113,114,115,116,117,118,119,120];
const tickLatA = [36,37,38,39,40,41,42,43];
const tickLonB = [108,109,110,111,112,113,114,115,116];
const tickLatB = [28,29,30,31,32,33];

const villageALon = [117.18,117.92,114.77,114.42,114.46,114.49,114.74,115.29,115.54,115.80,117.65,118.11,118.16,119.26,118.75,119.14,114.30,114.21,114.28,115.43,114.76,114.76,114.67,
114.42,114.48,114.54,114.42,114.48,114.54,114.40,114.46,114.42,114.50,114.58,114.62,114.64,114.59,
115.33,114.97,114.64,114.83,114.96,115.09,115.19,115.62,115.59,116.00,115.36,114.86,113.82,113.87,113.75,113.57,113.53,113.67,113.73,114.27,114.11,114.18,
113.90,113.95,114.03,114.09,113.89,113.97,114.04,114.12,113.91,113.99,114.07,114.15,114.24,113.95,114.03,114.11,113.99,114.04,113.93,113.89,
115.33,114.02,114.24,
113.91,114.09,114.22,114.15,114.18,113.95,113.87,114.09,114.33,113.81,113.87,113.93,114.29,114.26,113.95,114.03,113.79,113.99,114.07,114.15,114.34,114.11,114.03,114.30,115.18,113.78,114.22,114.33,
113.64,113.68,113.52,113.93,114.36,113.90,113.83,114.03,114.15,114.22,113.62,113.79,113.91,114.03,114.11,113.72,113.78,113.87,113.95,114.07,114.15,113.93,114.03,114.11,114.18,114.03,114.11,113.95];
const villageALat = [41.23,41.31,41.02,40.61,40.59,40.59,40.55,40.46,40.51,40.18,40.22,40.20,40.08,40.17,39.78,39.79,40.09,39.93,39.92,39.94,39.97,39.92,39.90,
39.92,39.93,39.90,39.86,39.85,39.82,39.80,39.77,39.74,39.74,39.83,39.84,39.78,39.74,
39.38,39.24,38.94,38.94,39.00,38.96,38.89,38.91,38.85,38.87,38.68,38.56,38.89,38.86,38.50,38.40,38.39,38.22,38.20,38.13,38.14,38.10,
38.11,38.14,38.09,38.06,38.04,38.04,38.02,38.01,37.96,37.96,37.95,37.96,37.99,37.90,37.88,37.90,37.83,37.80,38.09,37.98,
37.67,37.45,37.47,
37.32,37.34,37.31,37.29,37.25,37.22,37.17,37.19,37.18,37.13,37.12,37.14,37.10,37.04,37.04,37.04,37.03,36.98,36.98,37.01,36.96,36.92,36.92,36.88,36.98,36.91,36.83,36.82,
36.76,36.73,36.71,36.68,36.73,36.63,36.58,36.63,36.63,36.65,36.60,36.54,36.54,36.54,36.54,36.48,36.45,36.48,36.46,36.46,36.46,36.40,36.40,36.39,36.40,36.36,36.36,36.37];

const villageBLon = [110.05,110.36,110.30,110.34,111.08,111.27,111.44,110.58,111.05,110.90,111.06,111.28,109.62,109.82,110.63,113.05,113.24,113.63,113.68,
114.18,114.34,114.36,114.07,114.15,114.35,114.42,114.47,114.06,114.66,114.47,114.38,114.49,114.60,114.68,114.19,114.18,114.72,114.04,114.18,114.96,115.10,115.14,115.10,
111.56,111.66,111.57,111.69,111.56,111.83,111.75,111.77,111.73,111.77,111.60,111.64,111.59,
112.78,112.77,112.94,113.05,113.36,113.32,
110.64,110.81,110.46,110.77,112.50,112.65,111.87,111.10,
115.41,115.32,115.38,115.23,115.07,115.10,115.29,115.45,115.63,115.77,115.58,115.36,115.01,115.06,114.69,114.75,114.49,114.20,114.36,114.44,114.66,114.70,114.79,114.64,114.71,114.64,114.69,114.52,115.02,114.96,
112.99,115.58,115.83,115.87,114.70,113.65,115.58,115.68,
115.04,114.90,114.96,115.03,114.93,115.00,114.90,115.04,115.07,114.57,114.84,114.93,114.97,115.25,115.34,114.99,
114.01,114.20,114.34,114.40,114.45,114.13,114.54,114.68,114.58,114.35,114.44,114.49,114.14,114.13,114.05,114.10,114.15,113.75,114.45,114.61,114.69,114.76,114.81,113.70,114.01,114.03,
108.56,108.68,108.68,108.71,109.05,109.08,109.23,109.55,109.83,109.81,109.91,110.02,110.42,110.40,111.01,111.01,110.97,110.73,110.62,109.92,110.05,110.18,110.47,110.47,110.42,110.58,110.73,109.25,108.95,108.78,108.68,108.89,108.90,108.97,109.08,109.19,109.23,109.15,108.66,108.74,109.02,109.05,109.23,109.23,109.23,109.42,109.42,109.56,109.72,109.62,108.77,110.01,110.09,110.00,110.34,110.40,110.36,110.36,110.47,109.73,109.64,110.25,109.44,109.50,109.37,109.31,109.17,109.01,109.04,109.12,108.80,109.42,109.47,109.53,109.60,110.52,110.58,108.97,108.93,109.29,109.31,109.22,109.14,109.17,109.12,109.29,109.38,109.17,109.25,109.31,109.34,109.24,109.27,109.26];
const villageBLat = [32.90,32.76,32.64,32.54,32.53,32.50,32.50,32.43,32.34,32.11,32.08,32.11,32.07,32.14,31.80,32.02,32.06,31.93,31.90,
31.55,31.50,31.46,31.44,31.40,31.35,31.33,31.31,31.29,31.29,31.28,31.24,31.24,31.23,31.23,31.25,31.17,31.18,31.11,31.09,31.12,31.16,31.14,31.12,
31.31,31.30,31.24,31.22,31.18,31.19,31.12,31.10,31.10,31.04,31.04,30.96,30.69,
31.30,31.27,31.17,31.05,31.20,31.16,
31.02,31.01,30.86,30.72,30.75,30.63,30.54,30.50,
31.05,31.00,30.96,30.92,30.94,30.90,30.85,30.88,30.93,30.85,30.75,30.75,30.73,30.73,31.00,30.96,30.92,30.89,30.79,30.79,30.85,30.83,30.84,30.79,30.76,30.74,30.73,30.68,30.54,30.41,
30.29,29.97,30.07,30.02,29.91,29.75,29.69,29.63,
29.85,29.80,29.80,29.80,29.76,29.75,29.68,29.67,29.66,29.63,29.60,29.54,29.55,29.46,29.48,29.45,
29.56,29.56,29.50,29.51,29.47,29.48,29.47,29.45,29.42,29.40,29.39,29.40,29.39,29.33,29.30,29.30,29.32,29.31,29.28,29.26,29.20,29.24,29.25,29.08,29.02,29.00,
30.24,30.32,30.29,30.27,30.34,30.35,30.28,30.36,30.25,30.19,30.14,30.21,30.30,30.21,30.33,30.29,30.17,30.13,30.09,30.03,29.96,29.94,29.97,29.92,29.89,29.92,29.83,29.99,30.01,29.94,29.88,29.90,29.94,29.82,29.80,29.85,29.85,29.83,29.74,29.78,29.73,29.74,29.78,29.74,29.69,29.83,29.77,29.77,29.74,29.70,29.67,29.75,29.70,29.66,29.77,29.76,29.71,29.66,29.65,29.63,29.58,29.58,29.65,29.59,29.63,29.58,29.57,29.53,29.47,29.47,29.42,29.47,29.53,29.51,29.46,29.50,29.54,29.25,29.22,29.36,29.37,29.33,29.29,29.27,29.22,29.23,29.17,29.15,29.13,29.08,29.07,28.97,28.93,28.89];

const SVGNS = 'http://www.w3.org/2000/svg';

function xA(lon){ return 259 + 163 * (lon - 111); }
function yA(lat){ const d = lat - 36; return 1574 - 201.5 * d - 1.4 * d * d; }
function xB(lon){ return 2278.6 + 234.6 * (lon - 108); }
function yB(lat){ const d = lat - 28; return 1555 - 266.6 * d - 1.417 * d * d; }

function addLine(parent, x1, y1, x2, y2, width, color){
  const el = document.createElementNS(SVGNS, 'line');
  
  
  el.setAttribute('x1', x1);
  el.setAttribute('y1', y1);
  el.setAttribute('x2', x2);
  el.setAttribute('y2', y2);
  el.setAttribute('stroke', color);
  el.setAttribute('stroke-width', width);
  parent.appendChild(el);
}

function addVillage(parent, cx, cy, r){
  const el = document.createElementNS(SVGNS, 'circle');
  
  
  el.setAttribute('cx', cx);
  el.setAttribute('cy', cy);
  el.setAttribute('r', r);
  el.setAttribute('fill', '#000');
  parent.appendChild(el);
}

const ticksA = document.getElementById('ticksA');
const ticksB = document.getElementById('ticksB');
tickLonA.forEach(function(v){
  addLine(ticksA, xA(v), 78, xA(v), 84, 2, '#222');
  addLine(ticksA, xA(v), 1592, xA(v), 1598, 2, '#222');
});
tickLatA.forEach(function(v){
  addLine(ticksA, 144, yA(v), 152, yA(v), 2, '#222');
  addLine(ticksA, 1808, yA(v), 1816, yA(v), 2, '#222');
});
tickLonB.forEach(function(v){
  addLine(ticksB, xB(v), 55, xB(v), 66, 4, '#111');
  addLine(ticksB, xB(v), 1594, xB(v), 1606, 4, '#111');
});
tickLatB.forEach(function(v){
  addLine(ticksB, 2147, yB(v), 2159, yB(v), 4, '#111');
  addLine(ticksB, 4237, yB(v), 4250, yB(v), 4, '#111');
});

const villagesA = document.getElementById('villagesA');
villageALon.forEach(function(lon, i){
  addVillage(villagesA, xA(lon), yA(villageALat[i]), 8.2);
});
const villagesB = document.getElementById('villagesB');
villageBLon.forEach(function(lon, i){
  addVillage(villagesB, xB(lon), yB(villageBLat[i]), 10.5);
});
</script>
</body>
</html>
